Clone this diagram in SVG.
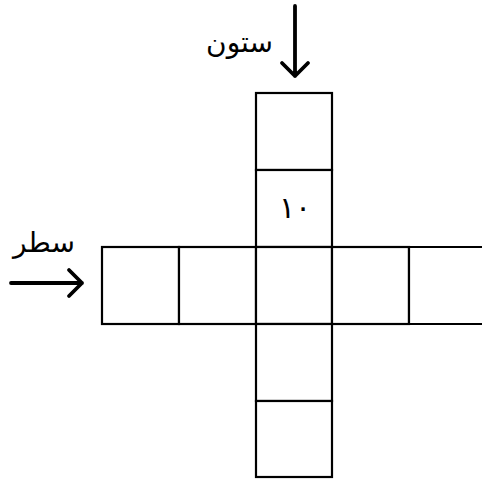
<svg xmlns="http://www.w3.org/2000/svg" width="482" height="479" viewBox="0 0 482 479">
<style>
.cell{fill:#fff;stroke:#000;stroke-width:2.2}
.lbl{font-family:"DejaVu Sans","Noto Sans",sans-serif;fill:#000}
.arr{stroke:#000;stroke-width:3.8;fill:none;stroke-linecap:round;stroke-linejoin:round}
</style>
<rect width="482" height="479" fill="#fff"/>
<g id="cells">
<g id="c1"><rect class="cell" x="256" y="93" width="76" height="77"/></g>
<g id="c2"><rect class="cell" x="256" y="170" width="76" height="77"/><text class="lbl" x="295" y="218" font-size="30" text-anchor="middle">١٠</text></g>
<g id="r1"><rect class="cell" x="102" y="247" width="77" height="77"/></g>
<g id="r2"><rect class="cell" x="179" y="247" width="77" height="77"/></g>
<g id="c3"><rect class="cell" x="256" y="247" width="76" height="77"/></g>
<g id="r4"><rect class="cell" x="332" y="247" width="77" height="77"/></g>
<g id="r5"><path class="cell" d="M484 247 H409 V324 H484" /></g>
<g id="c4"><rect class="cell" x="256" y="324" width="76" height="77"/></g>
<g id="c5"><rect class="cell" x="256" y="401" width="76" height="76"/></g>
</g>
<g id="labels">
<g id="col-label"><text class="lbl" x="273" y="52" font-size="28" text-anchor="end">ستون</text></g>
<g id="row-label"><text class="lbl" x="75" y="252" font-size="28" text-anchor="end">سطر</text></g>
</g>
<g id="connectors">
<path class="arr" d="M295 6 V76 M282 63 L295 76 L308 63"/>
<path class="arr" d="M11 283 H82 M69 270 L82 283 L69 296"/>
</g>
</svg>
